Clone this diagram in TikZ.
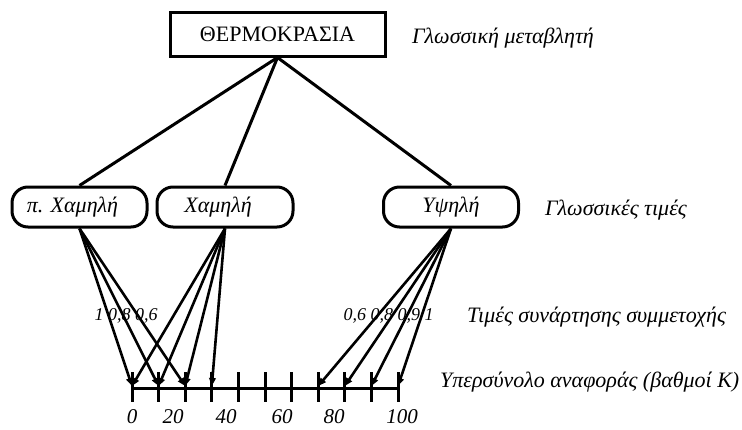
\documentclass[tikz,border=0pt]{standalone}
\usepackage{fontspec}
\setmainfont{Liberation Serif}
\usetikzlibrary{arrows.meta}
\begin{document}
\begin{tikzpicture}[x=1pt,y=-1pt,
  every node/.style={font=\fontsize{22}{24}\selectfont},
  varbox/.style={draw,line width=3pt,minimum width=215pt,minimum height=44pt,inner sep=0pt},
  valbox/.style={draw,line width=3pt,rounded corners=16pt,minimum height=40pt,inner sep=0pt,
                 font=\fontsize{22}{24}\selectfont\itshape},
  link/.style={line width=3pt},
  member/.style={line width=2.6pt,-{Triangle[length=8pt,width=6.5pt]}},
  axisline/.style={line width=3pt},
  note/.style={anchor=base west,inner sep=0pt,font=\fontsize{22}{24}\selectfont\itshape},
  deg/.style={anchor=base,inner sep=0pt,font=\fontsize{21}{24}\selectfont\itshape},
  grade/.style={anchor=base,inner sep=0pt,font=\fontsize{18}{20}\selectfont\itshape}
]
\useasboundingbox (0,0) rectangle (742,429);

% linguistic variable
\node[varbox] (var) at (277.5,34) {ΘΕΡΜΟΚΡΑΣΙΑ};
\node[note] (varnote) at (412,43) {Γλωσσική μεταβλητή};

% linguistic values
\node[valbox,minimum width=135pt] (vlow) at (79.5,207) {π. Χαμηλή\kern14pt};
\node[valbox,minimum width=136pt] (low) at (225,207) {Χαμηλή\kern14pt};
\node[valbox,minimum width=135pt] (high) at (451,207) {Υψηλή};
\node[note] (valnote) at (545,215) {Γλωσσικές τιμές};

\draw[link] (var.south) -- (vlow.north);
\draw[link] (var.south) -- (low.north);
\draw[link] (var.south) -- (high.north);

% reference set axis with ticks every 10 degrees
\foreach \i in {0,...,10}{
  \coordinate (t\i) at ({132+26.6*\i},388);
  \coordinate (p\i) at ({132+26.6*\i},386);
  \draw[axisline] ({132+26.6*\i},372) -- ({132+26.6*\i},402);
}
\draw[axisline] (t0) -- (t10);

\foreach \x/\v in {132/0,173/20,226/40,282/60,334/80,402/100}
  \node[deg] (d\v) at (\x,423) {\v};

\node[note] (setnote) at (440,387) {Υπερσύνολο αναφοράς (βαθμοί Κ)};

% membership connectors
\foreach \i in {0,1,2} \draw[member] (vlow.south) -- (p\i);
\foreach \i in {0,1,2,3} \draw[member] (low.south) -- (p\i);
\foreach \i in {7,8,9,10} \draw[member] (high.south) -- (p\i);

\node[grade] (g1) at (126,320) {1 0,8 0,6};
\node[grade] (g2) at (388.5,320) {0,6 0,8 0,9 1};
\node[note] (gradenote) at (467,322) {Τιμές συνάρτησης συμμετοχής};
\end{tikzpicture}
\end{document}
